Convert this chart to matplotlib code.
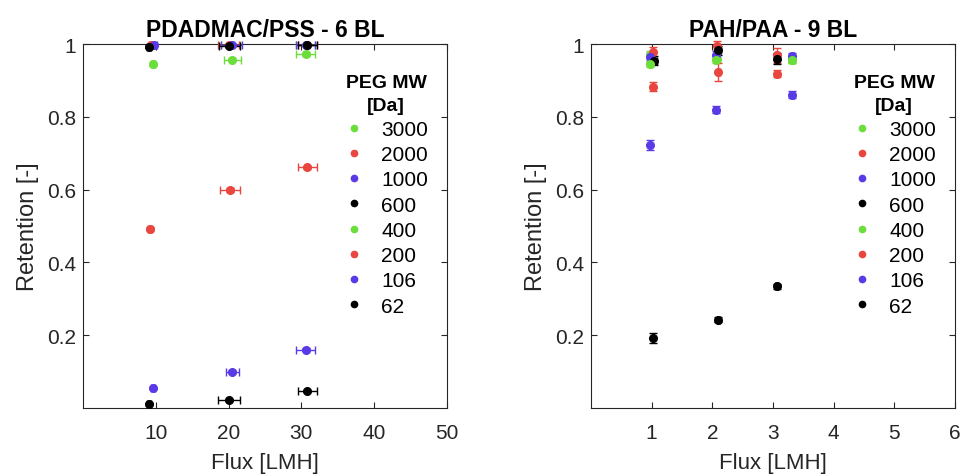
import matplotlib

matplotlib.use("Agg")
import matplotlib.pyplot as plt
from matplotlib.lines import Line2D

plt.rcParams["font.family"] = ["Liberation Sans", "DejaVu Sans"]

GREEN = "#6cde3c"
RED = "#e8463e"
BLUE = "#5a3ae6"
BLACK = "#000000"

peg_mw = ["3000", "2000", "1000", "600", "400", "200", "106", "62"]
colors = [GREEN, RED, BLUE, BLACK, GREEN, RED, BLUE, BLACK]

# PDADMAC/PSS - 6 BL
pss_flux = {
    "3000": [9.6, 20.3, 30.6],
    "2000": [9.4, 20.0, 30.8],
    "1000": [9.8, 20.4, 30.6],
    "600": [9.1, 20.1, 30.8],
    "400": [9.6, 20.5, 30.6],
    "200": [9.2, 20.2, 30.8],
    "106": [9.6, 20.5, 30.6],
    "62": [9.1, 20.1, 30.8],
}
pss_flux_err = {
    "3000": [0.3, 1.3, 1.3],
    "2000": [0.3, 1.4, 1.3],
    "1000": [0.3, 1.4, 1.3],
    "600": [0.3, 1.4, 1.3],
    "400": [0.3, 1.2, 1.3],
    "200": [0.3, 1.4, 1.3],
    "106": [0.3, 0.9, 1.3],
    "62": [0.3, 1.5, 1.3],
}
pss_ret = {
    "3000": [0.998, 0.998, 0.998],
    "2000": [0.998, 0.998, 0.998],
    "1000": [0.998, 0.998, 0.998],
    "600": [0.993, 0.995, 0.998],
    "400": [0.944, 0.957, 0.972],
    "200": [0.492, 0.599, 0.661],
    "106": [0.055, 0.099, 0.160],
    "62": [0.010, 0.022, 0.047],
}
pss_ret_err = {
    "3000": [0.003, 0.003, 0.003],
    "2000": [0.003, 0.003, 0.003],
    "1000": [0.003, 0.003, 0.003],
    "600": [0.003, 0.003, 0.003],
    "400": [0.005, 0.005, 0.005],
    "200": [0.006, 0.005, 0.005],
    "106": [0.004, 0.004, 0.004],
    "62": [0.003, 0.003, 0.003],
}

# PAH/PAA - 9 BL
paa_flux = {
    "3000": [0.98, 2.07, 3.32],
    "2000": [1.02, 2.07, 3.06],
    "1000": [0.97, 2.06, 3.32],
    "600": [1.04, 2.10, 3.06],
    "400": [0.98, 2.06, 3.32],
    "200": [1.02, 2.10, 3.06],
    "106": [0.97, 2.06, 3.32],
    "62": [1.02, 2.10, 3.06],
}
paa_flux_err = {
    "3000": [0.02, 0.02, 0.02],
    "2000": [0.02, 0.02, 0.02],
    "1000": [0.02, 0.02, 0.02],
    "600": [0.05, 0.05, 0.02],
    "400": [0.02, 0.02, 0.02],
    "200": [0.02, 0.02, 0.02],
    "106": [0.02, 0.02, 0.02],
    "62": [0.02, 0.02, 0.02],
}
paa_ret = {
    "3000": [0.970, 0.960, 0.957],
    "2000": [0.977, 0.995, 0.969],
    "1000": [0.964, 0.970, 0.966],
    "600": [0.954, 0.983, 0.959],
    "400": [0.945, 0.957, 0.957],
    "200": [0.883, 0.924, 0.919],
    "106": [0.723, 0.820, 0.861],
    "62": [0.192, 0.243, 0.334],
}
paa_ret_err = {
    "3000": [0.010, 0.010, 0.010],
    "2000": [0.015, 0.012, 0.020],
    "1000": [0.010, 0.010, 0.008],
    "600": [0.012, 0.012, 0.015],
    "400": [0.008, 0.008, 0.010],
    "200": [0.013, 0.025, 0.010],
    "106": [0.013, 0.010, 0.010],
    "62": [0.013, 0.008, 0.008],
}

panels = [
    ("PDADMAC/PSS - 6 BL", pss_flux, pss_flux_err, pss_ret, pss_ret_err,
     (0, 50), [10, 20, 30, 40, 50]),
    ("PAH/PAA - 9 BL", paa_flux, paa_flux_err, paa_ret, paa_ret_err,
     (0, 6), [1, 2, 3, 4, 5, 6]),
]

fig = plt.figure(figsize=(9.63, 4.77), dpi=100)
axes = [fig.add_axes([0.0862, 0.1426, 0.378, 0.763]),
        fig.add_axes([0.6137, 0.1426, 0.378, 0.763])]

for ax, (title, flux, ferr, ret, rerr, xlim, xticks) in zip(axes, panels):
    for mw, c in zip(peg_mw, colors):
        ax.errorbar(flux[mw], ret[mw], xerr=ferr[mw], yerr=rerr[mw], fmt="o",
                    color=c, ecolor=c, markersize=5.5, elinewidth=1,
                    capsize=3, capthick=1, clip_on=False, zorder=3)
    ax.set_xlim(*xlim)
    ax.set_ylim(0, 1)
    ax.set_xticks(xticks)
    ax.set_xticklabels([str(t) for t in xticks])
    ax.set_yticks([0.2, 0.4, 0.6, 0.8, 1])
    ax.set_yticklabels(["0.2", "0.4", "0.6", "0.8", "1"])
    ax.tick_params(direction="in", top=True, right=True, length=4,
                   labelsize=15, colors="#262626", width=0.8, pad=5)
    ax.tick_params(axis="x", pad=11)
    for s in ax.spines.values():
        s.set_color("#262626")
        s.set_linewidth(0.8)
    ax.set_xlabel("Flux [LMH]", fontsize=16, color="#262626", labelpad=7)
    ax.set_ylabel("Retention [-]", fontsize=17, color="#262626", labelpad=6)
    ax.set_title(title, fontsize=16.5, fontweight="bold", pad=6)

    handles = [Line2D([], [], marker="o", linestyle="none", color=c,
                      markersize=4.5) for c in colors]
    leg = ax.legend(handles, peg_mw, title="PEG MW\n[Da]", frameon=False,
                    loc="upper right", bbox_to_anchor=(1.0, 0.97),
                    fontsize=15, title_fontsize=14, handlelength=1.0,
                    handletextpad=0.8, labelspacing=0.3)
    leg.get_title().set_fontweight("bold")
    leg.get_title().set_multialignment("center")
    leg.get_title().set_linespacing(1.45)

fig.savefig("out.png", dpi=100)
plt.close(fig)
